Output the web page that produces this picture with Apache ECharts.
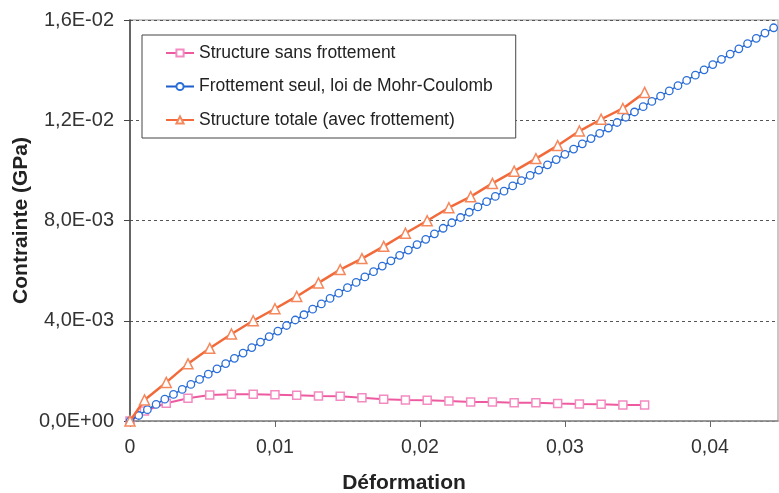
<!DOCTYPE html>
<html>
<head>
<meta charset="utf-8">
<script src="https://cdn.jsdelivr.net/npm/echarts@6/dist/echarts.min.js"></script>
<style>
html,body{margin:0;padding:0;background:#fff;}
#chart{width:779px;height:493px;}
</style>
</head>
<body>
<div id="chart"></div>
<script>
// ---- data ----
const seriesNames = ['Structure sans frottement', 'Frottement seul, loi de Mohr-Coulomb', 'Structure totale (avec frottement)'];

const pinkStrain = [0, 0.001, 0.0025, 0.004, 0.0055, 0.007, 0.0085, 0.01, 0.0115, 0.013, 0.0145, 0.016, 0.0175,
  0.019, 0.0205, 0.022, 0.0235, 0.025, 0.0265, 0.028, 0.0295, 0.031, 0.0325, 0.034, 0.0355];
const pinkStress = [0, 0.0004, 0.00071, 0.00091, 0.00104, 0.00107, 0.00107, 0.00105, 0.00103, 0.001, 0.00099, 0.00093, 0.00087,
  0.00084, 0.00083, 0.0008, 0.00076, 0.00076, 0.00073, 0.00073, 0.0007, 0.00068, 0.00067, 0.00064, 0.00064];

const blueStrain = [0, 0.0006, 0.0012, 0.0018, 0.0024, 0.003, 0.0036, 0.0042, 0.0048, 0.0054,
  0.006, 0.0066, 0.0072, 0.0078, 0.0084, 0.009, 0.0096, 0.0102, 0.0108, 0.0114,
  0.012, 0.0126, 0.0132, 0.0138, 0.0144, 0.015, 0.0156, 0.0162, 0.0168, 0.0174,
  0.018, 0.0186, 0.0192, 0.0198, 0.0204, 0.021, 0.0216, 0.0222, 0.0228, 0.0234,
  0.024, 0.0246, 0.0252, 0.0258, 0.0264, 0.027, 0.0276, 0.0282, 0.0288, 0.0294,
  0.03, 0.0306, 0.0312, 0.0318, 0.0324, 0.033, 0.0336, 0.0342, 0.0348, 0.0354,
  0.036, 0.0366, 0.0372, 0.0378, 0.0384, 0.039, 0.0396, 0.0402, 0.0408, 0.0414,
  0.042, 0.0426, 0.0432, 0.0438, 0.0444];
const blueStress = [0, 0.00022, 0.00045, 0.00066, 0.00087, 0.00106, 0.00126, 0.00146, 0.00166, 0.00187,
  0.00208, 0.00229, 0.0025, 0.00271, 0.00293, 0.00315, 0.00337, 0.00359, 0.00381, 0.00403,
  0.00424, 0.00446, 0.00467, 0.00489, 0.0051, 0.00532, 0.00553, 0.00575, 0.00596, 0.00618,
  0.00639, 0.00661, 0.00682, 0.00704, 0.00725, 0.00747, 0.00769, 0.00791, 0.00812, 0.00833,
  0.00854, 0.00875, 0.00896, 0.00917, 0.00938, 0.00959, 0.0098, 0.01001, 0.01022, 0.01043,
  0.01064, 0.01085, 0.01106, 0.01127, 0.01148, 0.01169, 0.01191, 0.01212, 0.01233, 0.01254,
  0.01275, 0.01296, 0.01317, 0.01338, 0.01359, 0.0138, 0.01401, 0.01422, 0.01443, 0.01464,
  0.01485, 0.01506, 0.01527, 0.01548, 0.01569];

const orangeStrain = [0, 0.001, 0.0025, 0.004, 0.0055, 0.007, 0.0085, 0.01, 0.0115, 0.013, 0.0145, 0.016, 0.0175,
  0.019, 0.0205, 0.022, 0.0235, 0.025, 0.0265, 0.028, 0.0295, 0.031, 0.0325, 0.034, 0.0355];
const orangeStress = [0, 0.00084, 0.00154, 0.00228, 0.0029, 0.00347, 0.004, 0.00448, 0.00497, 0.00551, 0.00604, 0.00648, 0.00697,
  0.00749, 0.00799, 0.00851, 0.00895, 0.00948, 0.00997, 0.01047, 0.01099, 0.01157, 0.01204, 0.01247, 0.01311];

const xTickLabels = ['0', '0,01', '0,02', '0,03', '0,04'];
const yTickLabels = ['0,0E+00', '4,0E-03', '8,0E-03', '1,2E-02', '1,6E-02'];
const xTitle = 'Déformation';
const yTitle = 'Contrainte (GPa)';

// ---- chart ----
function zip(a, b) { return a.map((v, i) => [v, b[i]]); }
const X_STEP = 0.01, Y_STEP = 0.004;

const chart = echarts.init(document.getElementById('chart'), null, {renderer: 'canvas'});
const font = '"Liberation Sans", Arial, sans-serif';

chart.setOption({
  animation: false,
  backgroundColor: '#ffffff',
  textStyle: {fontFamily: font},
  grid: {left: 130, right: 1, top: 20, bottom: 72, show: true, borderColor: '#b5b5b5', borderWidth: 1.5,
    containLabel: false, outerBoundsMode: 'none'},
  legend: {
    orient: 'vertical', left: 142, top: 35,
    padding: [9, 23, 9, 23], itemGap: 15.5, itemWidth: 28, itemHeight: 9,
    borderColor: '#444', borderWidth: 1, backgroundColor: '#fff',
    textStyle: {fontSize: 17.5, color: '#222', fontFamily: font},
    data: seriesNames
  },
  xAxis: {
    type: 'value', min: 0, max: 0.0447, interval: X_STEP,
    name: xTitle, nameLocation: 'middle', nameGap: 52,
    nameTextStyle: {fontSize: 21, fontWeight: 'bold', color: '#222', padding: [0, 100, 0, 0]},
    axisLine: {show: true, lineStyle: {color: '#8a8a8a', width: 1.5}},
    axisTick: {show: true, length: 6, lineStyle: {color: '#666'}},
    axisLabel: {fontSize: 19.5, color: '#333', margin: 17, showMaxLabel: false,
      formatter: v => { const i = Math.round(v / X_STEP); return Math.abs(v - i * X_STEP) < 1e-9 ? xTickLabels[i] : ''; }},
    splitLine: {show: false}
  },
  yAxis: {
    type: 'value', min: 0, max: 0.016, interval: Y_STEP,
    name: yTitle, nameLocation: 'middle', nameGap: 98, nameMoveOverlap: false,
    nameTextStyle: {fontSize: 21, fontWeight: 'bold', color: '#222'},
    axisLine: {show: true, lineStyle: {color: '#444', width: 1.5}},
    axisTick: {show: true, length: 6, lineStyle: {color: '#444'}},
    axisLabel: {fontSize: 20, color: '#333', margin: 16,
      formatter: v => yTickLabels[Math.round(v / Y_STEP)]},
    splitLine: {show: true, lineStyle: {color: '#555', type: [3, 3], width: 1}}
  },
  series: [
    {
      name: seriesNames[0], type: 'line', data: zip(pinkStrain, pinkStress),
      symbol: 'rect', symbolSize: 8,
      lineStyle: {color: '#ee5a9f', width: 2},
      itemStyle: {color: '#fff', borderColor: '#f38ac0', borderWidth: 1.5},
      z: 3
    },
    {
      name: seriesNames[1], type: 'line', data: zip(blueStrain, blueStress),
      symbol: 'circle', symbolSize: 7.5,
      lineStyle: {color: '#1d5ccc', width: 1.5},
      itemStyle: {color: '#fff', borderColor: '#2b6fd8', borderWidth: 1.3},
      z: 4
    },
    {
      name: seriesNames[2], type: 'line', data: zip(orangeStrain, orangeStress),
      symbol: 'triangle', symbolSize: 10,
      lineStyle: {color: '#f26a3a', width: 2.5},
      itemStyle: {color: '#fff', borderColor: '#f5875c', borderWidth: 1.5},
      z: 5
    }
  ]
});
</script>
</body>
</html>
